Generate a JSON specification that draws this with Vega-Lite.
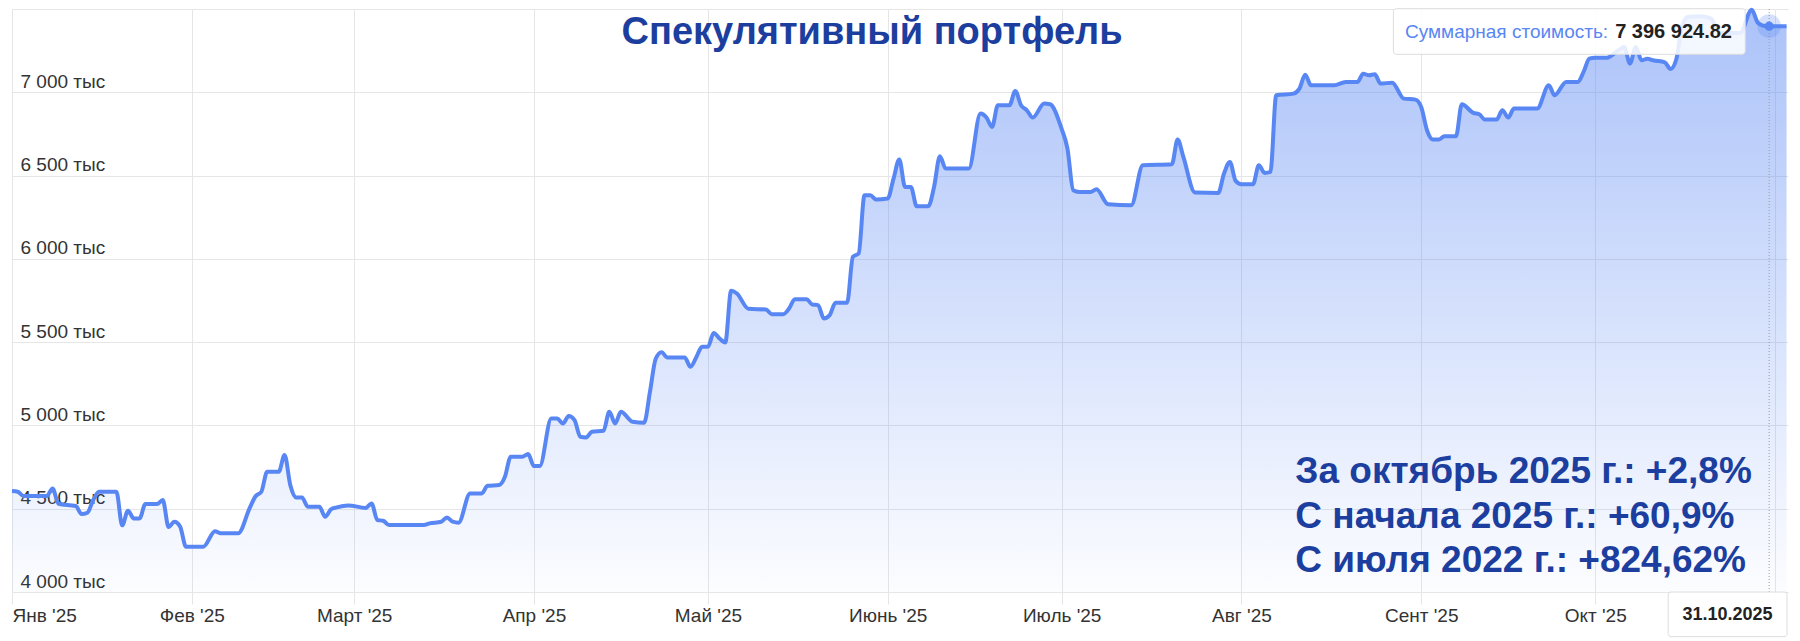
{
  "$schema": "https://vega.github.io/schema/vega-lite/v6.json",
  "width": 1776,
  "height": 583,
  "autosize": {"type": "none"},
  "padding": {"left": 12, "top": 9, "right": 12, "bottom": 49},
  "background": "#ffffff",
  "title": {"text": "Спекулятивный портфель", "anchor": "middle", "frame": "group", "orient": "top", "baseline": "top", "offset": -50, "dx": -28, "font": "Liberation Sans", "fontSize": 38, "fontWeight": "bold", "color": "#1c3e9e"},
  "config": {"view": {"stroke": null}, "font": "Liberation Sans"},
  "data": {
    "format": {"parse": {"date": "utc:'%Y-%m-%d'"}},
    "values": [
      {"date":"2025-01-01","value":4606000},
      {"date":"2025-01-02","value":4602000},
      {"date":"2025-01-03","value":4576000},
      {"date":"2025-01-07","value":4576000},
      {"date":"2025-01-08","value":4622000},
      {"date":"2025-01-09","value":4530000},
      {"date":"2025-01-12","value":4516000},
      {"date":"2025-01-13","value":4468000},
      {"date":"2025-01-14","value":4476000},
      {"date":"2025-01-15","value":4552000},
      {"date":"2025-01-16","value":4602000},
      {"date":"2025-01-19","value":4602000},
      {"date":"2025-01-20","value":4400000},
      {"date":"2025-01-21","value":4488000},
      {"date":"2025-01-22","value":4442000},
      {"date":"2025-01-23","value":4442000},
      {"date":"2025-01-24","value":4528000},
      {"date":"2025-01-26","value":4528000},
      {"date":"2025-01-27","value":4552000},
      {"date":"2025-01-28","value":4390000},
      {"date":"2025-01-29","value":4422000},
      {"date":"2025-01-30","value":4392000},
      {"date":"2025-01-31","value":4272000},
      {"date":"2025-02-03","value":4272000},
      {"date":"2025-02-05","value":4365000},
      {"date":"2025-02-06","value":4352000},
      {"date":"2025-02-09","value":4352000},
      {"date":"2025-02-11","value":4505000},
      {"date":"2025-02-12","value":4575000},
      {"date":"2025-02-13","value":4602000},
      {"date":"2025-02-14","value":4722000},
      {"date":"2025-02-16","value":4722000},
      {"date":"2025-02-17","value":4822000},
      {"date":"2025-02-18","value":4640000},
      {"date":"2025-02-19","value":4568000},
      {"date":"2025-02-20","value":4568000},
      {"date":"2025-02-21","value":4512000},
      {"date":"2025-02-23","value":4512000},
      {"date":"2025-02-24","value":4452000},
      {"date":"2025-02-25","value":4496000},
      {"date":"2025-02-26","value":4508000},
      {"date":"2025-02-28","value":4520000},
      {"date":"2025-03-03","value":4505000},
      {"date":"2025-03-04","value":4532000},
      {"date":"2025-03-05","value":4432000},
      {"date":"2025-03-06","value":4428000},
      {"date":"2025-03-07","value":4402000},
      {"date":"2025-03-13","value":4402000},
      {"date":"2025-03-14","value":4412000},
      {"date":"2025-03-16","value":4422000},
      {"date":"2025-03-17","value":4448000},
      {"date":"2025-03-18","value":4422000},
      {"date":"2025-03-19","value":4416000},
      {"date":"2025-03-21","value":4592000},
      {"date":"2025-03-23","value":4592000},
      {"date":"2025-03-24","value":4638000},
      {"date":"2025-03-26","value":4642000},
      {"date":"2025-03-27","value":4692000},
      {"date":"2025-03-28","value":4812000},
      {"date":"2025-03-30","value":4812000},
      {"date":"2025-03-31","value":4828000},
      {"date":"2025-04-01","value":4756000},
      {"date":"2025-04-02","value":4756000},
      {"date":"2025-04-04","value":5042000},
      {"date":"2025-04-05","value":5042000},
      {"date":"2025-04-06","value":5012000},
      {"date":"2025-04-07","value":5056000},
      {"date":"2025-04-08","value":5032000},
      {"date":"2025-04-09","value":4932000},
      {"date":"2025-04-10","value":4928000},
      {"date":"2025-04-11","value":4962000},
      {"date":"2025-04-13","value":4968000},
      {"date":"2025-04-14","value":5082000},
      {"date":"2025-04-15","value":5012000},
      {"date":"2025-04-16","value":5082000},
      {"date":"2025-04-18","value":5022000},
      {"date":"2025-04-20","value":5016000},
      {"date":"2025-04-21","value":5200000},
      {"date":"2025-04-22","value":5400000},
      {"date":"2025-04-23","value":5440000},
      {"date":"2025-04-24","value":5408000},
      {"date":"2025-04-27","value":5408000},
      {"date":"2025-04-28","value":5352000},
      {"date":"2025-04-29","value":5410000},
      {"date":"2025-04-30","value":5472000},
      {"date":"2025-05-01","value":5472000},
      {"date":"2025-05-02","value":5555000},
      {"date":"2025-05-03","value":5522000},
      {"date":"2025-05-04","value":5498000},
      {"date":"2025-05-05","value":5808000},
      {"date":"2025-05-06","value":5792000},
      {"date":"2025-05-08","value":5700000},
      {"date":"2025-05-11","value":5696000},
      {"date":"2025-05-12","value":5668000},
      {"date":"2025-05-14","value":5668000},
      {"date":"2025-05-15","value":5702000},
      {"date":"2025-05-16","value":5758000},
      {"date":"2025-05-18","value":5758000},
      {"date":"2025-05-19","value":5726000},
      {"date":"2025-05-20","value":5722000},
      {"date":"2025-05-21","value":5642000},
      {"date":"2025-05-22","value":5662000},
      {"date":"2025-05-23","value":5736000},
      {"date":"2025-05-25","value":5736000},
      {"date":"2025-05-26","value":6012000},
      {"date":"2025-05-27","value":6032000},
      {"date":"2025-05-28","value":6382000},
      {"date":"2025-05-29","value":6382000},
      {"date":"2025-05-30","value":6356000},
      {"date":"2025-06-01","value":6362000},
      {"date":"2025-06-02","value":6480000},
      {"date":"2025-06-03","value":6596000},
      {"date":"2025-06-04","value":6432000},
      {"date":"2025-06-05","value":6432000},
      {"date":"2025-06-06","value":6316000},
      {"date":"2025-06-08","value":6316000},
      {"date":"2025-06-09","value":6432000},
      {"date":"2025-06-10","value":6616000},
      {"date":"2025-06-11","value":6542000},
      {"date":"2025-06-15","value":6542000},
      {"date":"2025-06-17","value":6872000},
      {"date":"2025-06-18","value":6850000},
      {"date":"2025-06-19","value":6792000},
      {"date":"2025-06-20","value":6922000},
      {"date":"2025-06-22","value":6922000},
      {"date":"2025-06-23","value":7008000},
      {"date":"2025-06-24","value":6922000},
      {"date":"2025-06-25","value":6892000},
      {"date":"2025-06-26","value":6848000},
      {"date":"2025-06-28","value":6932000},
      {"date":"2025-06-29","value":6928000},
      {"date":"2025-07-01","value":6780000},
      {"date":"2025-07-02","value":6662000},
      {"date":"2025-07-03","value":6412000},
      {"date":"2025-07-04","value":6402000},
      {"date":"2025-07-06","value":6402000},
      {"date":"2025-07-07","value":6418000},
      {"date":"2025-07-09","value":6328000},
      {"date":"2025-07-13","value":6322000},
      {"date":"2025-07-15","value":6562000},
      {"date":"2025-07-20","value":6568000},
      {"date":"2025-07-21","value":6716000},
      {"date":"2025-07-22","value":6610000},
      {"date":"2025-07-24","value":6398000},
      {"date":"2025-07-28","value":6396000},
      {"date":"2025-07-29","value":6512000},
      {"date":"2025-07-30","value":6582000},
      {"date":"2025-07-31","value":6468000},
      {"date":"2025-08-01","value":6448000},
      {"date":"2025-08-03","value":6448000},
      {"date":"2025-08-04","value":6562000},
      {"date":"2025-08-05","value":6516000},
      {"date":"2025-08-06","value":6522000},
      {"date":"2025-08-07","value":6982000},
      {"date":"2025-08-10","value":6992000},
      {"date":"2025-08-11","value":7022000},
      {"date":"2025-08-12","value":7106000},
      {"date":"2025-08-13","value":7042000},
      {"date":"2025-08-17","value":7042000},
      {"date":"2025-08-19","value":7062000},
      {"date":"2025-08-21","value":7062000},
      {"date":"2025-08-22","value":7112000},
      {"date":"2025-08-23","value":7102000},
      {"date":"2025-08-24","value":7108000},
      {"date":"2025-08-25","value":7052000},
      {"date":"2025-08-27","value":7058000},
      {"date":"2025-08-29","value":6962000},
      {"date":"2025-08-31","value":6956000},
      {"date":"2025-09-01","value":6912000},
      {"date":"2025-09-02","value":6772000},
      {"date":"2025-09-03","value":6716000},
      {"date":"2025-09-04","value":6716000},
      {"date":"2025-09-05","value":6736000},
      {"date":"2025-09-07","value":6736000},
      {"date":"2025-09-08","value":6928000},
      {"date":"2025-09-10","value":6876000},
      {"date":"2025-09-11","value":6868000},
      {"date":"2025-09-12","value":6836000},
      {"date":"2025-09-14","value":6836000},
      {"date":"2025-09-15","value":6892000},
      {"date":"2025-09-16","value":6848000},
      {"date":"2025-09-17","value":6902000},
      {"date":"2025-09-21","value":6902000},
      {"date":"2025-09-23","value":7042000},
      {"date":"2025-09-24","value":6982000},
      {"date":"2025-09-26","value":7062000},
      {"date":"2025-09-28","value":7062000},
      {"date":"2025-09-29","value":7122000},
      {"date":"2025-09-30","value":7202000},
      {"date":"2025-10-01","value":7208000},
      {"date":"2025-10-03","value":7208000},
      {"date":"2025-10-05","value":7252000},
      {"date":"2025-10-06","value":7272000},
      {"date":"2025-10-07","value":7172000},
      {"date":"2025-10-08","value":7272000},
      {"date":"2025-10-09","value":7192000},
      {"date":"2025-10-10","value":7202000},
      {"date":"2025-10-11","value":7192000},
      {"date":"2025-10-13","value":7180000},
      {"date":"2025-10-14","value":7140000},
      {"date":"2025-10-15","value":7200000},
      {"date":"2025-10-16","value":7400000},
      {"date":"2025-10-17","value":7452000},
      {"date":"2025-10-19","value":7456000},
      {"date":"2025-10-21","value":7442000},
      {"date":"2025-10-22","value":7380000},
      {"date":"2025-10-23","value":7356000},
      {"date":"2025-10-26","value":7356000},
      {"date":"2025-10-28","value":7496000},
      {"date":"2025-10-29","value":7420000},
      {"date":"2025-10-30","value":7400000},
      {"date":"2025-10-31","value":7396924.82},
      {"date":"2025-11-01","value":7396924.82},
      {"date":"2025-11-02","value":7396924.82},
      {"date":"2025-11-03","value":7396924.82}
    ]
  },
  "layer": [
    {
      "mark": {"type": "area", "interpolate": "monotone", "color": {"gradient": "linear", "x1": 0, "y1": 0, "x2": 0, "y2": 1, "stops": [{"offset": 0, "color": "rgba(88,134,243,0.5)"}, {"offset": 1, "color": "rgba(88,134,243,0.02)"}]}},
      "encoding": {
        "x": {
          "field": "date", "type": "temporal",
          "scale": {"type": "utc", "domain": [{"year": 2025, "month": 1, "date": 1, "utc": true}, {"year": 2025, "month": 11, "date": 3, "hours": 6, "utc": true}]},
          "axis": {
            "title": null,
            "values": [
              {"year": 2025, "month": 1, "date": 1, "utc": true},
              {"year": 2025, "month": 2, "date": 1, "utc": true},
              {"year": 2025, "month": 3, "date": 1, "utc": true},
              {"year": 2025, "month": 4, "date": 1, "utc": true},
              {"year": 2025, "month": 5, "date": 1, "utc": true},
              {"year": 2025, "month": 6, "date": 1, "utc": true},
              {"year": 2025, "month": 7, "date": 1, "utc": true},
              {"year": 2025, "month": 8, "date": 1, "utc": true},
              {"year": 2025, "month": 9, "date": 1, "utc": true},
              {"year": 2025, "month": 10, "date": 1, "utc": true},
              {"year": 2025, "month": 11, "date": 1, "utc": true}
            ],
            "labelExpr": "utcmonth(datum.value) > 9 ? '' : ['Янв','Фев','Март','Апр','Май','Июнь','Июль','Авг','Сент','Окт'][utcmonth(datum.value)] + \" '25\"",
            "grid": true, "gridColor": "#e6e6e6", "gridWidth": 1,
            "domainColor": "#e6e6e6", "tickColor": "#e6e6e6", "tickSize": 12,
            "labelFont": "Liberation Sans", "labelFontSize": 19, "labelColor": "#333333",
            "labelBaseline": "alphabetic", "labelPadding": 17, "labelFlush": true, "labelOverlap": false
          }
        },
        "y": {
          "field": "value", "type": "quantitative",
          "scale": {"domain": [4000000, 7500000], "zero": false, "nice": false},
          "axis": {
            "title": null,
            "values": [4000000, 4500000, 5000000, 5500000, 6000000, 6500000, 7000000, 7500000],
            "labelExpr": "datum.value >= 7500000 ? '' : replace(format(datum.value / 1000, ','), ',', ' ') + ' тыс'",
            "grid": true, "gridColor": "#e6e6e6", "gridWidth": 1,
            "domain": false, "ticks": false, "tickSize": 0,
            "labelAlign": "left", "labelBaseline": "alphabetic", "labelPadding": -8, "labelOffset": -5,
            "labelFont": "Liberation Sans", "labelFontSize": 19, "labelColor": "#333333"
          }
        },
        "y2": {"datum": 4000000}
      }
    },
    {
      "mark": {"type": "line", "interpolate": "monotone", "color": "#5886f3", "strokeWidth": 4},
      "encoding": {
        "x": {"field": "date", "type": "temporal"},
        "y": {"field": "value", "type": "quantitative"}
      }
    },
    {
      "data": {"values": [{}]},
      "mark": {"type": "rule", "color": "#9a9a9a", "strokeDash": [1, 2], "strokeWidth": 1},
      "encoding": {
        "x": {"datum": {"year": 2025, "month": 10, "date": 31, "utc": true}, "type": "temporal"},
        "y": {"datum": 7500000},
        "y2": {"datum": 4000000}
      }
    },
    {
      "data": {"values": [{}]},
      "mark": {"type": "rect", "fill": "#ffffff", "fillOpacity": 0.85, "stroke": "#dddddd", "strokeWidth": 1, "cornerRadius": 3},
      "encoding": {
        "x": {"datum": {"year": 2025, "month": 8, "date": 27, "hours": 5, "utc": true}, "type": "temporal"},
        "x2": {"datum": {"year": 2025, "month": 10, "date": 26, "hours": 21, "utc": true}},
        "y": {"datum": 7502000},
        "y2": {"datum": 7228000}
      }
    },
    {
      "data": {"values": [{}]},
      "mark": {"type": "text", "align": "left", "baseline": "alphabetic", "font": "Liberation Sans", "fontSize": 19, "color": "#5886f3", "text": "Суммарная стоимость:"},
      "encoding": {
        "x": {"datum": {"year": 2025, "month": 8, "date": 29, "hours": 5, "utc": true}, "type": "temporal"},
        "y": {"datum": 7328000}
      }
    },
    {
      "data": {"values": [{}]},
      "mark": {"type": "text", "align": "right", "baseline": "alphabetic", "font": "Liberation Sans", "fontSize": 20, "fontWeight": "bold", "color": "#222222", "text": "7 396 924.82"},
      "encoding": {
        "x": {"datum": {"year": 2025, "month": 10, "date": 24, "hours": 14, "utc": true}, "type": "temporal"},
        "y": {"datum": 7328000}
      }
    },
    {
      "data": {"values": [{}]},
      "mark": {"type": "point", "filled": true, "size": 560, "color": "#5886f3", "opacity": 0.25},
      "encoding": {
        "x": {"datum": {"year": 2025, "month": 10, "date": 31, "utc": true}, "type": "temporal"},
        "y": {"datum": 7396924.82}
      }
    },
    {
      "data": {"values": [{}]},
      "mark": {"type": "point", "filled": true, "size": 85, "color": "#5886f3", "opacity": 1},
      "encoding": {
        "x": {"datum": {"year": 2025, "month": 10, "date": 31, "utc": true}, "type": "temporal"},
        "y": {"datum": 7396924.82}
      }
    },
    {
      "data": {"values": [{}]},
      "mark": {"type": "rect", "fill": "#ffffff", "fillOpacity": 0.92, "stroke": "#dddddd", "strokeWidth": 1, "cornerRadius": 3},
      "encoding": {
        "x": {"datum": {"year": 2025, "month": 10, "date": 13, "hours": 14, "utc": true}, "type": "temporal"},
        "x2": {"datum": {"year": 2025, "month": 11, "date": 3, "hours": 2, "utc": true}},
        "y": {"datum": 4000000},
        "y2": {"datum": 3732000}
      }
    },
    {
      "data": {"values": [{}]},
      "mark": {"type": "text", "align": "center", "baseline": "alphabetic", "font": "Liberation Sans", "fontSize": 18, "fontWeight": "bold", "color": "#222222", "text": "31.10.2025"},
      "encoding": {
        "x": {"datum": {"year": 2025, "month": 10, "date": 23, "hours": 20, "utc": true}, "type": "temporal"},
        "y": {"datum": 3832000}
      }
    },
    {
      "data": {"values": [{}]},
      "mark": {"type": "text", "align": "left", "baseline": "alphabetic", "font": "Liberation Sans", "fontSize": 37, "fontWeight": "bold", "color": "#1c3e9e", "lineHeight": 44.5, "text": ["За октябрь 2025 г.: +2,8%", "С начала 2025 г.: +60,9%", "С июля 2022 г.: +824,62%"]},
      "encoding": {
        "x": {"datum": {"year": 2025, "month": 8, "date": 10, "hours": 7, "utc": true}, "type": "temporal"},
        "y": {"datum": 4654000}
      }
    }
  ]
}
